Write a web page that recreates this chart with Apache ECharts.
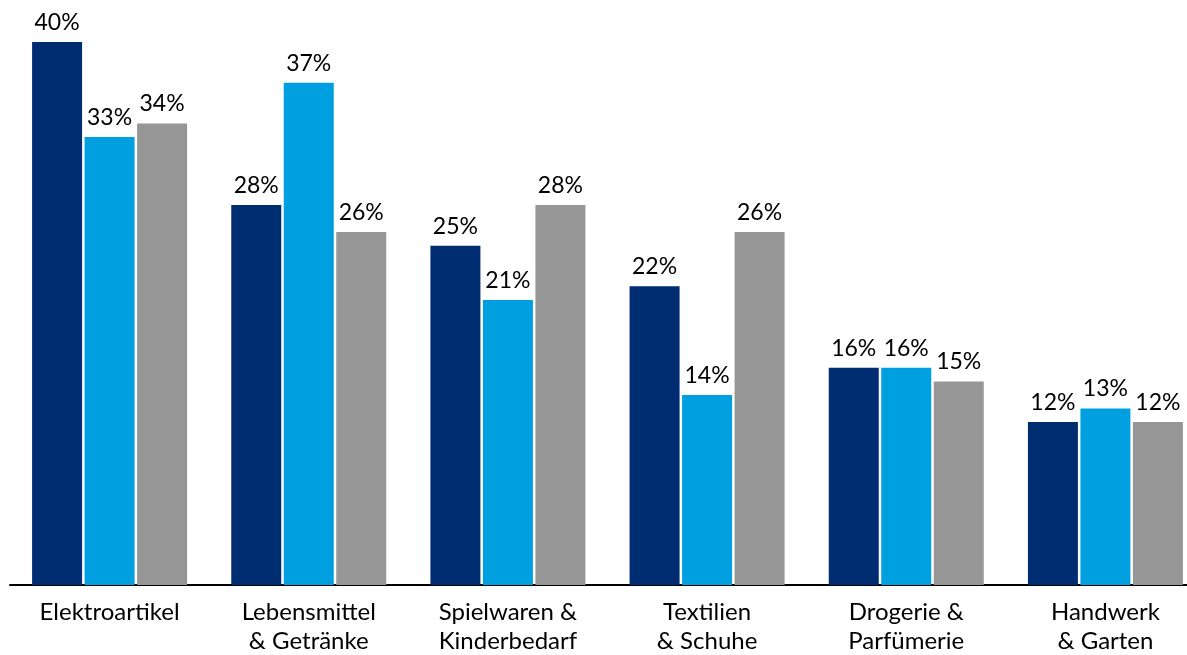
<!DOCTYPE html>
<html><head><meta charset="utf-8">
<script src="https://cdn.jsdelivr.net/npm/echarts@6/dist/echarts.min.js"></script>
<style>html,body{margin:0;padding:0;background:#fff}#c{width:1187px;height:655px}</style>
</head><body><div id="c"></div>
<script>
const categories = ['Elektroartikel', 'Lebensmittel\n& Getränke', 'Spielwaren &\nKinderbedarf', 'Textilien\n& Schuhe', 'Drogerie &\nParfümerie', 'Handwerk\n& Garten'];
const series1 = [40, 28, 25, 22, 16, 12];
const series2 = [33, 37, 21, 14, 16, 13];
const series3 = [34, 26, 28, 26, 15, 12];
const colors = ['#002D72', '#009FE0', '#969696'];
const FONT = 'Lato';
const chart = echarts.init(document.getElementById('c'));
const mk = (data, i) => ({
  type: 'bar', data: data, barWidth: 50, barGap: '5%',
  itemStyle: { color: colors[i] },
  label: { show: true, position: 'top', distance: 8, formatter: '{c}%', color: '#000', fontFamily: FONT, fontSize: 23 },
  animation: false
});
chart.setOption({
  animation: false,
  grid: { left: 10, width: 1195, top: 42, height: 543, containLabel: false, outerBoundsMode: 'none' },
  xAxis: { type: 'category', data: categories,
    axisLine: { lineStyle: { color: '#000', width: 2 } }, axisTick: { show: false },
    axisLabel: { color: '#000', fontFamily: FONT, fontSize: 24, lineHeight: 29, margin: 13, interval: 0 } },
  yAxis: { type: 'value', min: 0, max: 40, show: false, splitLine: { show: false } },
  series: [mk(series1, 0), mk(series2, 1), mk(series3, 2)]
});
</script></body></html>
